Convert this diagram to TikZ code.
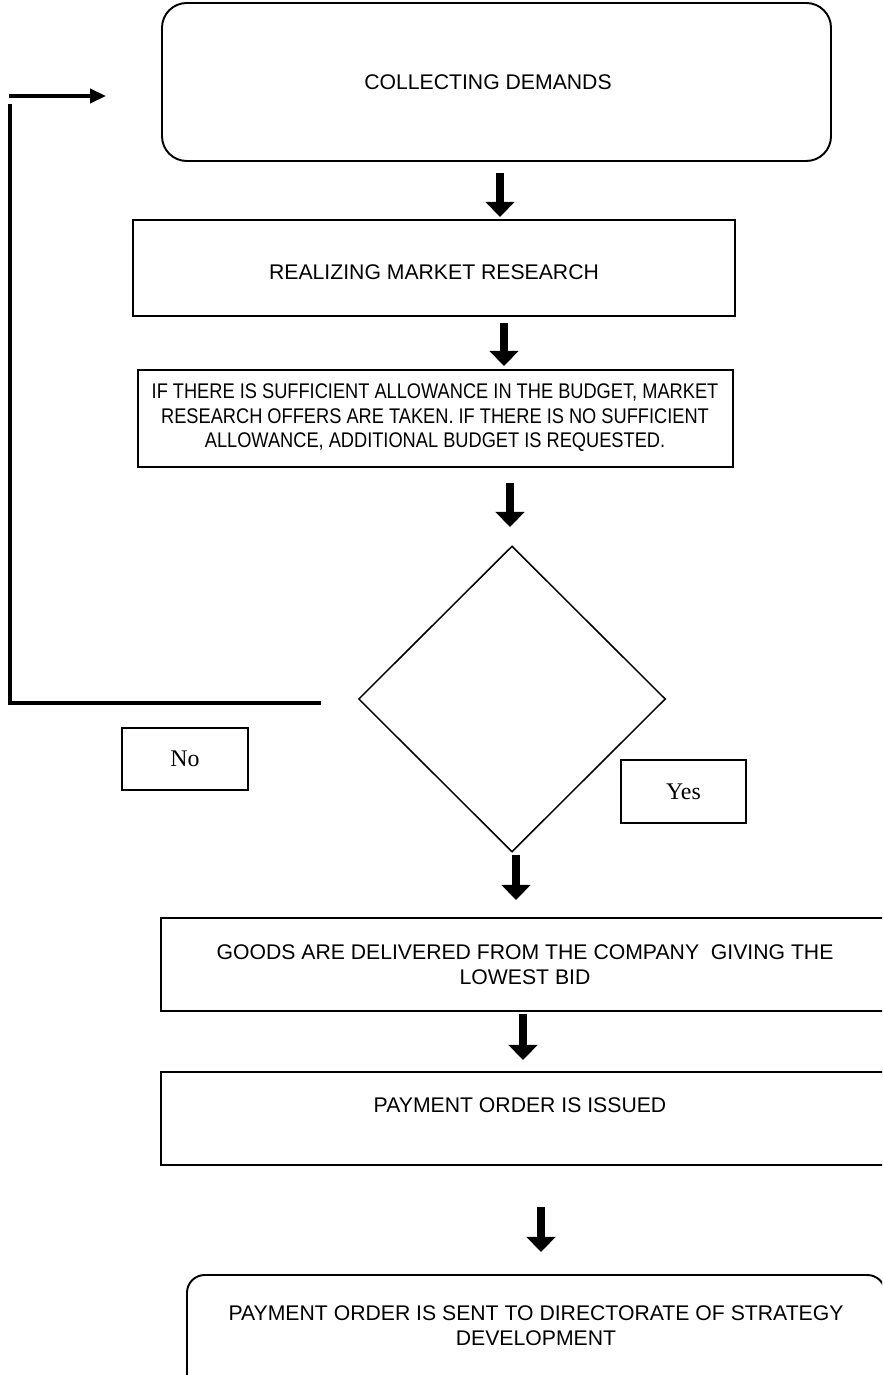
\documentclass[tikz,border=0pt]{standalone}
\usepackage{fontspec}
\setmainfont{Liberation Sans}
\newfontfamily\narrowf[FakeStretch=0.86]{Liberation Sans}
\newfontfamily\timesf{Liberation Serif}
\usetikzlibrary{arrows.meta,shapes.geometric}
\begin{document}
\begin{tikzpicture}[x=0.566pt,y=-0.566pt,
  box/.style={draw,line width=1.1pt,inner sep=0pt,outer sep=0pt},
  rbox/.style={box,rounded corners=#1},
  txt/.style={align=center,inner sep=0pt,font=\fontsize{12}{14.15}\selectfont},
  ntxt/.style={align=center,inner sep=0pt,font=\narrowf\fontsize{12}{13.9}\selectfont},
  lbl/.style={draw,line width=1.1pt,inner sep=0pt,font=\timesf\fontsize{13.5}{16}\selectfont},
  blk/.style={line width=4.5pt,-{Triangle[width=16pt,length=8.5pt]}},
  loopline/.style={line width=2pt},
  loopar/.style={line width=2pt,-{Triangle[width=8pt,length=9pt]}}]
\useasboundingbox (0,0) rectangle (882,1375);
\clip (0,0) rectangle (882,1375);
% boxes
\node[rbox=14pt,minimum width=669*0.566pt,minimum height=158*0.566pt] (b1) at (496.5,82) {};
\node[box,minimum width=602*0.566pt,minimum height=96*0.566pt] (b2) at (434,268) {};
\node[box,minimum width=595*0.566pt,minimum height=97*0.566pt] (b3) at (435.5,418.5) {};
\node[draw,diamond,aspect=1,line width=0.85pt,inner sep=0pt,minimum width=307*0.566pt,minimum height=306*0.566pt] (d) at (512,699) {};
\node[box,minimum width=728*0.566pt,minimum height=93*0.566pt] (b4) at (525,964.5) {};
\node[box,minimum width=728*0.566pt,minimum height=93*0.566pt] (b5) at (525,1118.5) {};
\node[rbox=10pt,minimum width=698*0.566pt,minimum height=160*0.566pt] (b6) at (536,1355) {};
% texts
\node[txt] (t1) at (488,82) {COLLECTING DEMANDS};
\node[txt] (t2) at (434,272) {REALIZING MARKET RESEARCH};
\node[ntxt] (t3) at (435,418) {IF THERE IS SUFFICIENT ALLOWANCE IN THE BUDGET, MARKET\\RESEARCH OFFERS ARE TAKEN. IF THERE IS NO SUFFICIENT\\ALLOWANCE, ADDITIONAL BUDGET IS REQUESTED.};
\node[txt] (t4) at (525,965) {GOODS ARE DELIVERED FROM THE COMPANY\ \ GIVING THE\\LOWEST BID};
\node[txt] (t5) at (520,1105) {PAYMENT ORDER IS ISSUED};
\node[txt] (t6) at (536,1326) {PAYMENT ORDER IS SENT TO DIRECTORATE OF STRATEGY\\DEVELOPMENT};
% labels
\node[lbl,minimum width=126*0.566pt,minimum height=62*0.566pt] (no) at (185,759) {No};
\node[lbl,minimum width=125*0.566pt,minimum height=63*0.566pt] (yes) at (683.5,791.5) {Yes};
% block arrows
\coordinate (a1s) at (500,173); \coordinate (a1e) at (500,217);
\coordinate (a2s) at (504,323); \coordinate (a2e) at (504,366);
\coordinate (a3s) at (510,483); \coordinate (a3e) at (510,527);
\coordinate (a4s) at (516,855); \coordinate (a4e) at (516,900);
\coordinate (a5s) at (523,1014); \coordinate (a5e) at (523,1060);
\coordinate (a6s) at (541,1207); \coordinate (a6e) at (541,1252);
\draw[blk] (a1s) -- (a1e);
\draw[blk] (a2s) -- (a2e);
\draw[blk] (a3s) -- (a3e);
\draw[blk] (a4s) -- (a4e);
\draw[blk] (a5s) -- (a5e);
\draw[blk] (a6s) -- (a6e);
% loop back
\coordinate (ls) at (321,703);
\coordinate (lc) at (10,703);
\coordinate (lt) at (10,104);
\coordinate (as) at (9,96);
\coordinate (ae) at (106,96);
\draw[loopline] (ls) -- (lc) -- (lt);
\draw[loopar] (as) -- (ae);
\end{tikzpicture}
\end{document}
